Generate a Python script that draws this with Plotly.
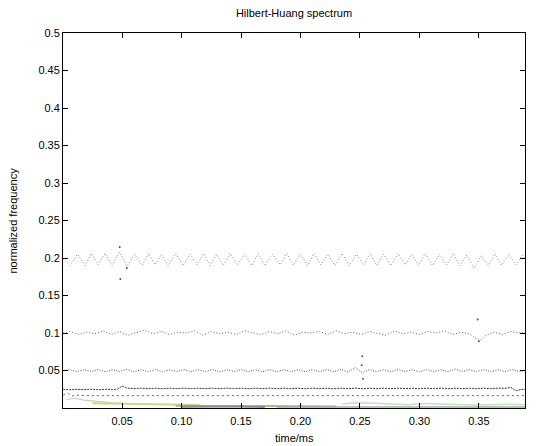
import plotly.graph_objects as go

# ---------------- data ----------------
x_tickvals = [0.05, 0.10, 0.15, 0.20, 0.25, 0.30, 0.35]
x_ticktext = ["0.05", "0.10", "0.15", "0.20", "0.25", "0.30", "0.35"]
y_tickvals = [0.05, 0.10, 0.15, 0.20, 0.25, 0.30, 0.35, 0.40, 0.45, 0.50]
y_ticktext = ["0.05", "0.1", "0.15", "0.2", "0.25", "0.3", "0.35", "0.4", "0.45", "0.5"]

# IMF 1 (~0.2, oscillating ridge): vertices of the zig-zag
t_imf1 = [0.0005, 0.0063, 0.0125, 0.0189, 0.0243, 0.0298, 0.0357, 0.0416, 0.0478, 0.0542,
          0.0605, 0.0668, 0.0722, 0.0777, 0.0832, 0.0887, 0.0950, 0.1013, 0.1072, 0.1130,
          0.1185, 0.1240, 0.1295, 0.1350, 0.1410, 0.1470, 0.1530, 0.1590, 0.1645, 0.1700,
          0.1765, 0.1830, 0.1885, 0.1940, 0.2000, 0.2060, 0.2115, 0.2170, 0.2230, 0.2290,
          0.2350, 0.2410, 0.2470, 0.2530, 0.2585, 0.2640, 0.2700, 0.2760, 0.2820, 0.2880,
          0.2935, 0.2990, 0.3050, 0.3110, 0.3170, 0.3230, 0.3285, 0.3340, 0.3400, 0.3460,
          0.3520, 0.3580, 0.3635, 0.3690, 0.3750, 0.3810, 0.3870, 0.3888]
f_imf1 = [0.199, 0.190, 0.205, 0.190, 0.206, 0.191, 0.206, 0.190, 0.208, 0.189,
          0.205, 0.190, 0.206, 0.191, 0.205, 0.190, 0.206, 0.190, 0.205, 0.191,
          0.206, 0.190, 0.205, 0.190, 0.206, 0.191, 0.205, 0.190, 0.206, 0.190,
          0.205, 0.191, 0.206, 0.190, 0.205, 0.190, 0.206, 0.191, 0.205, 0.190,
          0.206, 0.190, 0.205, 0.191, 0.206, 0.190, 0.205, 0.190, 0.206, 0.191,
          0.205, 0.190, 0.206, 0.190, 0.205, 0.191, 0.206, 0.190, 0.204, 0.186,
          0.203, 0.190, 0.206, 0.190, 0.205, 0.191, 0.204, 0.198]

# IMF 2 (~0.1, noisy ridge)
t_imf2 = [0.0005, 0.006, 0.013, 0.020, 0.027, 0.034, 0.041, 0.048, 0.055, 0.062,
          0.069, 0.076, 0.083, 0.090, 0.097, 0.104, 0.111, 0.118, 0.125, 0.132,
          0.139, 0.146, 0.153, 0.160, 0.167, 0.174, 0.181, 0.188, 0.195, 0.202,
          0.209, 0.216, 0.223, 0.230, 0.237, 0.244, 0.251, 0.258, 0.265, 0.272,
          0.279, 0.286, 0.293, 0.300, 0.307, 0.314, 0.321, 0.328, 0.335, 0.342,
          0.347, 0.351, 0.356, 0.363, 0.370, 0.377, 0.384, 0.3888]
f_imf2 = [0.100, 0.102, 0.098, 0.101, 0.099, 0.103, 0.098, 0.102, 0.097, 0.101,
          0.104, 0.099, 0.102, 0.098, 0.101, 0.100, 0.103, 0.097, 0.102, 0.099,
          0.101, 0.098, 0.103, 0.100, 0.098, 0.102, 0.099, 0.103, 0.097, 0.101,
          0.100, 0.102, 0.098, 0.103, 0.099, 0.101, 0.098, 0.102, 0.100, 0.097,
          0.103, 0.099, 0.101, 0.098, 0.102, 0.100, 0.103, 0.098, 0.101, 0.099,
          0.093, 0.090, 0.097, 0.101, 0.098, 0.102, 0.100, 0.101]

# IMF 3 (~0.05, wavy ridge)
t_imf3 = [0.0005, 0.006, 0.012, 0.018, 0.024, 0.030, 0.036, 0.042, 0.048, 0.054,
          0.060, 0.066, 0.072, 0.078, 0.084, 0.090, 0.096, 0.102, 0.108, 0.114,
          0.120, 0.126, 0.132, 0.138, 0.144, 0.150, 0.156, 0.162, 0.168, 0.174,
          0.180, 0.186, 0.192, 0.198, 0.204, 0.210, 0.216, 0.222, 0.228, 0.234,
          0.240, 0.246, 0.252, 0.258, 0.264, 0.270, 0.276, 0.282, 0.288, 0.294,
          0.300, 0.306, 0.312, 0.318, 0.324, 0.330, 0.336, 0.342, 0.348, 0.354,
          0.360, 0.366, 0.372, 0.378, 0.384, 0.3888]
f_imf3 = [0.0500, 0.0512, 0.0484, 0.0510, 0.0486, 0.0513, 0.0483, 0.0511, 0.0488, 0.0514,
          0.0482, 0.0510, 0.0485, 0.0512, 0.0483, 0.0510, 0.0487, 0.0513, 0.0484, 0.0511,
          0.0485, 0.0512, 0.0483, 0.0510, 0.0486, 0.0513, 0.0484, 0.0511, 0.0485, 0.0512,
          0.0483, 0.0510, 0.0486, 0.0512, 0.0484, 0.0511, 0.0485, 0.0513, 0.0483, 0.0515,
          0.0480, 0.0540, 0.0470, 0.0512, 0.0485, 0.0511, 0.0484, 0.0512, 0.0486, 0.0510,
          0.0483, 0.0512, 0.0485, 0.0511, 0.0484, 0.0520, 0.0486, 0.0511, 0.0484, 0.0512,
          0.0485, 0.0510, 0.0484, 0.0512, 0.0488, 0.0500]

# IMF 4 (~0.026, dark continuous ridge)
t_imf4 = [0.0005, 0.006, 0.012, 0.018, 0.024, 0.030, 0.036, 0.042, 0.046, 0.050,
          0.054, 0.060, 0.066, 0.072, 0.078, 0.084, 0.090, 0.096, 0.102, 0.108,
          0.114, 0.120, 0.126, 0.132, 0.138, 0.144, 0.150, 0.156, 0.162, 0.168,
          0.174, 0.180, 0.186, 0.192, 0.198, 0.204, 0.210, 0.216, 0.222, 0.228,
          0.234, 0.240, 0.246, 0.252, 0.258, 0.264, 0.270, 0.276, 0.282, 0.288,
          0.294, 0.300, 0.306, 0.312, 0.318, 0.324, 0.330, 0.336, 0.342, 0.348,
          0.354, 0.360, 0.366, 0.372, 0.377, 0.381, 0.385, 0.3888]
f_imf4 = [0.0250, 0.0243, 0.0250, 0.0244, 0.0251, 0.0243, 0.0250, 0.0244, 0.0252, 0.0293,
          0.0265, 0.0258, 0.0265, 0.0258, 0.0264, 0.0257, 0.0264, 0.0258, 0.0265, 0.0257,
          0.0264, 0.0258, 0.0264, 0.0257, 0.0265, 0.0258, 0.0264, 0.0257, 0.0264, 0.0258,
          0.0265, 0.0257, 0.0264, 0.0258, 0.0264, 0.0257, 0.0265, 0.0258, 0.0264, 0.0257,
          0.0264, 0.0258, 0.0265, 0.0257, 0.0264, 0.0258, 0.0264, 0.0257, 0.0265, 0.0258,
          0.0264, 0.0257, 0.0264, 0.0258, 0.0265, 0.0257, 0.0264, 0.0258, 0.0264, 0.0257,
          0.0264, 0.0258, 0.0265, 0.0262, 0.0275, 0.0230, 0.0245, 0.0250]

# IMF 5 (~0.0165, dotted ridge)
t_imf5 = [0.0005, 0.004, 0.008, 0.012, 0.020, 0.060, 0.067, 0.200, 0.215, 0.240, 0.3888]
f_imf5 = [0.0175, 0.0200, 0.0160, 0.0170, 0.0165, 0.0165, 0.0165, 0.0165, 0.0175, 0.0165, 0.0165]

# low-frequency residual components near the bottom
t_low_green = [0.003, 0.010, 0.018, 0.026, 0.034, 0.042, 0.050]
f_low_green = [0.0110, 0.0130, 0.0105, 0.0090, 0.0075, 0.0068, 0.0062]
t_low_yellow = [0.025, 0.040, 0.060, 0.080, 0.100, 0.115]
f_low_yellow = [0.0062, 0.0058, 0.0050, 0.0046, 0.0042, 0.0040]
t_low_olive = [0.095, 0.110, 0.125, 0.140, 0.160, 0.190, 0.230]
f_low_olive = [0.0030, 0.0028, 0.0030, 0.0026, 0.0024, 0.0022, 0.0020]
t_low_gray = [0.100, 0.112, 0.125, 0.145, 0.160, 0.170]
f_low_gray = [0.0018, 0.0020, 0.0022, 0.0020, 0.0016, 0.0014]
t_low_pale = [0.235, 0.248, 0.258, 0.268, 0.290, 0.305, 0.318, 0.330, 0.350, 0.375, 0.3888]
f_low_pale = [0.0055, 0.0070, 0.0068, 0.0058, 0.0045, 0.0060, 0.0058, 0.0048, 0.0040, 0.0050, 0.0045]
t_low_base = [0.180, 0.230, 0.280, 0.330, 0.3888]
f_low_base = [0.0012, 0.0012, 0.0011, 0.0012, 0.0012]

# isolated points off the ridges
t_out = [0.0480, 0.0485, 0.0540, 0.2520, 0.2515, 0.2525, 0.3490, 0.3500]
f_out = [0.2147, 0.1720, 0.1866, 0.0690, 0.0570, 0.0390, 0.1180, 0.0890]

# ---------------- figure ----------------
# The page body has an 8px default margin, so the figure is sized / offset to compensate.
fig = go.Figure()


def ridge(t, f, color, dash, width=1.0):
    fig.add_trace(go.Scatter(x=t, y=f, mode="lines",
                             line=dict(color=color, width=width, dash=dash),
                             hoverinfo="skip", showlegend=False))


ridge(t_imf1, f_imf1, "#8c7f8c", "1px,2px")
ridge(t_imf2, f_imf2, "#6a5480", "1px,2px")
ridge(t_imf3, f_imf3, "#5a4a6a", "1px,1.5px")
ridge(t_imf4, f_imf4, "#3d3050", "2px,1px")
ridge(t_imf5, f_imf5, "#6a6070", "2px,3px")
ridge(t_low_green, f_low_green, "#b8d8b0", "solid", 1.2)
ridge(t_low_yellow, f_low_yellow, "#d0d48c", "solid", 2)
ridge(t_low_olive, f_low_olive, "#b8b078", "solid", 2)
ridge(t_low_gray, f_low_gray, "#8c8c8c", "solid", 2)
ridge(t_low_pale, f_low_pale, "#c4e2c0", "solid", 1.5)
ridge(t_low_base, f_low_base, "#a8a8a8", "solid", 1.5)

fig.add_trace(go.Scatter(x=t_out, y=f_out, mode="markers",
                         marker=dict(color="#5a4a6a", size=2),
                         hoverinfo="skip", showlegend=False))

FONT = "Liberation Sans, Arial, sans-serif"
axis_common = dict(showline=True, linecolor="#000000", linewidth=1, mirror="ticks",
                   ticks="inside", ticklen=5, tickwidth=1, tickcolor="#000000",
                   showgrid=False, zeroline=False, automargin=False,
                   tickfont=dict(family=FONT, size=11, color="#000000"))

W, H = 528, 438
ML, MR, MT, MB = 55, 11, 25, 37.5

fig.update_layout(
    width=W, height=H,
    margin=dict(l=ML, r=MR, t=MT, b=MB, pad=0, autoexpand=False),
    paper_bgcolor="white", plot_bgcolor="white",
    font=dict(family=FONT, size=11, color="#000000"),
    title=dict(text="Hilbert-Huang spectrum", x=0.5, xref="paper", y=1 - 5 / H,
               yref="container", xanchor="center", yanchor="middle",
               font=dict(family=FONT, size=11)),
    xaxis=dict(range=[0.0003, 0.3888], tickvals=x_tickvals, ticktext=x_ticktext,
               ticklabelstandoff=3, **axis_common),
    yaxis=dict(range=[0.0, 0.5], tickvals=y_tickvals, ticktext=y_ticktext,
               **axis_common),
    annotations=[
        dict(text="time/ms", xref="paper", yref="paper", x=0.5, y=0,
             xanchor="center", yanchor="middle", yshift=-29.5, showarrow=False,
             font=dict(family=FONT, size=11)),
        dict(text="normalized frequency", xref="paper", yref="paper", x=0, y=0.5,
             xanchor="center", yanchor="middle", xshift=-(ML - 4), textangle=-90,
             showarrow=False, font=dict(family=FONT, size=11)),
    ],
)

fig.write_html("out.html")
